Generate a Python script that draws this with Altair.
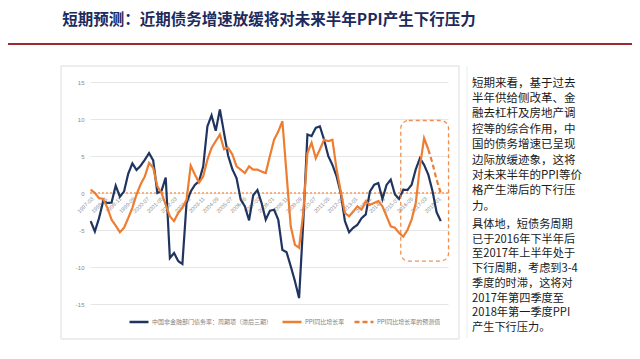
import altair as alt
import pandas as pd

# ---------------- data ----------------
quarters = [f"{y}-{m:02d}" for y in range(1997, 2019) for m in (3, 6, 9, 12)][:85]

debt_cycle = [
    -3.8, -5.2, -3.4, -1.1, -1.35, -1.3, 1.0, -0.5, 0.2, 2.6,
    4.0, 3.1, 3.7, 4.5, 5.4, 4.4, 0.0, 0.3, 2.1, -8.8,
    -8.1, -9.2, -9.6, -1.35, 0.2, 1.1, 1.6, 3.6, 9.0, 10.5,
    8.4, 11.3, 8.1, 5.0, 3.2, 2.0, -0.9, -1.8, -3.7, -0.3,
    0.4, -1.35, -3.6, -2.4, -2.25, -3.6, -7.7, -8.0, -9.9, -11.9,
    -14.2, -4.0, 7.9, 7.7, 8.8, 9.0, 7.2, 5.0, 3.8, 2.25,
    0.0, -3.8, -5.3, -4.7, -4.3, -3.4, -2.9, 0.2, 1.1, 1.35,
    -0.8, 1.1, 1.8, -0.2, -0.8, 0.45, 0.4, 1.1, 3.2, 4.7,
    3.8, 2.5, 0.3, -2.6, -3.8,
]

ppi = [
    0.45, 0.0, -0.7, -0.8, -2.0, -3.6, -4.4, -5.3, -4.7, -3.4,
    -2.0, -0.2, 1.2, 2.25, 4.05, 3.4, 0.9, 0.0, -1.6, -3.15,
    -3.8, -2.7, -2.0, -0.9, 3.7, 2.5, 1.4, 2.25, 4.5, 6.1,
    7.0, 7.9, 5.9, 6.1, 5.2, 3.6, 3.15, 2.7, 3.6, 3.15,
    3.15, 2.9, 2.7, 5.0, 7.2, 8.3, 9.7, 2.5, -4.5, -7.0,
    -7.4, -2.7, 5.4, 6.8, 4.7, 5.9, 7.2, 7.0, 7.2, 3.2,
    0.2, -2.7, -3.15, -2.5, -1.8, -2.25, -1.1, -1.6, -1.35, -1.1,
    -1.8, -3.15, -4.5, -4.7, -5.4, -5.9, -5.0, -3.6, -1.35, 3.6,
    7.4, 5.9,
]

ppi_forecast_quarters = ["2017-06", "2017-09", "2017-12", "2018-03"]
ppi_forecast = [5.9, 4.05, 1.8, 0.0]

tick_labels = [
    "1997-03", "1998-01", "1998-11", "1999-09", "2000-07", "2001-05", "2002-03",
    "2003-01", "2003-11", "2004-09", "2005-07", "2006-05", "2007-03", "2008-01",
    "2008-11", "2009-09", "2010-07", "2011-05", "2012-03", "2013-01", "2013-11",
    "2014-09", "2015-07", "2016-05", "2017-03", "2018-01",
]
y_ticks = [-15, -10, -5, 0, 5, 10, 15]

# highlight box: [start, end] dates and [low, high] values
box_dates = ["2015-10", "2018-09"]
box_values = [-9.2, 9.8]

S1 = "中国非金融部门债务率：周期项（滞后三期）"
S2 = "PPI同比增长率"
S3 = "PPI同比增长率的预测值"

title_text = "短期预测：近期债务增速放缓将对未来半年PPI产生下行压力"
para1 = ["短期来看，基于过去", "半年供给侧改革、金", "融去杠杆及房地产调", "控等的综合作用，中",
         "国的债务增速已呈现", "边际放缓迹象，这将", "对未来半年的PPI等价", "格产生滞后的下行压", "力。"]
para2 = ["具体地，短债务周期", "已于2016年下半年后", "至2017年上半年处于", "下行周期，考虑到3-4",
         "季度的时滞，这将对", "2017年第四季度至", "2018年第一季度PPI", "产生下行压力。"]


def month_index(s):
    y, m = s.split("-")
    return (int(y) - 1997) * 12 + int(m) - 1


rows = []
for q, v in zip(quarters, debt_cycle):
    rows.append({"m": month_index(q), "v": v, "s": S1})
for q, v in zip(quarters, ppi):
    rows.append({"m": month_index(q), "v": v, "s": S2})
for q, v in zip(ppi_forecast_quarters, ppi_forecast):
    rows.append({"m": month_index(q), "v": v, "s": S3})
df = pd.DataFrame(rows)

box_df = pd.DataFrame({
    "m": [month_index(box_dates[0]) + 0.2], "m2": [month_index(box_dates[1]) - 0.4],
    "v": [box_values[0]], "v2": [box_values[1]],
})

NAVY = "#1f3560"
ORANGE = "#ED7D31"
W, H = 358, 222

xscale = alt.Scale(domain=[1.5, 259.2], nice=False, zero=False)
yscale = alt.Scale(domain=[-15, 15], nice=False)

x_axis = alt.Axis(
    values=[month_index(t) for t in tick_labels],
    labelExpr="floor(datum.value/12)+1997 + '-' + (datum.value%12 < 9 ? '0' : '') + (datum.value%12+1)",
    labelAngle=-45, labelFontSize=5.5, labelColor="#8a8a8a", domain=False, ticks=False,
    grid=False, offset=-111, labelPadding=3, labelOverlap=False, labelFlush=False,
    labelFont="Liberation Sans",
)
y_axis = alt.Axis(
    values=y_ticks, labelExpr="'' + datum.value", grid=True, gridColor="#e6e6e6",
    gridWidth=1, domain=False, ticks=False, labelFontSize=6, labelColor="#8a8a8a",
    labelPadding=6, labelFont="Liberation Sans",
)

legend = alt.Legend(
    title=None, orient="none", legendX=38, legendY=229, direction="horizontal",
    symbolType="stroke", symbolSize=361, symbolStrokeWidth=2.5,
    labelFontSize=6.0, labelColor="#7f7f7f", labelLimit=0, columnPadding=4,
    labelOffset=2,
)

lines = alt.Chart(df).mark_line(strokeWidth=2.2).encode(
    x=alt.X("m:Q", scale=xscale, title=None, axis=x_axis),
    y=alt.Y("v:Q", scale=yscale, title=None, axis=y_axis),
    color=alt.Color("s:N", scale=alt.Scale(domain=[S1, S2, S3], range=[NAVY, ORANGE, ORANGE]),
                    legend=legend),
    strokeDash=alt.StrokeDash("s:N", scale=alt.Scale(domain=[S1, S2, S3],
                                                     range=[[1, 0], [1, 0], [5, 3]]),
                              legend=legend),
)

zero_rule = alt.Chart(df).mark_rule(color="#F4B183", strokeDash=[2, 2], strokeWidth=1).encode(
    y=alt.YDatum(0, scale=yscale, axis=y_axis)
)

box = alt.Chart(box_df).mark_rect(
    fill="transparent", stroke=ORANGE, strokeDash=[4, 3], strokeWidth=1.3, cornerRadius=8,
    strokeOpacity=0.85,
).encode(
    x=alt.X("m:Q", scale=xscale, title=None, axis=x_axis), x2="m2:Q",
    y=alt.Y("v:Q", scale=yscale, title=None, axis=y_axis), y2="v2:Q",
)

one = pd.DataFrame({"a": [0]})
frame = alt.Chart(one).mark_rect(fill="transparent", stroke="#dcdcdc", strokeWidth=1).encode(
    x=alt.value(-29), x2=alt.value(369), y=alt.value(-16), y2=alt.value(257)
)
side_line = alt.Chart(one).mark_rule(color="#ececec", strokeWidth=1).encode(
    x=alt.value(377), y=alt.value(-16), y2=alt.value(256)
)
red_line = alt.Chart(one).mark_rule(color="#9e2a2f", strokeWidth=2).encode(
    x=alt.value(-87), x2=alt.value(550), y=alt.value(-38)
)
title = alt.Chart(one).mark_text(
    text=title_text, fontSize=15.5, fontWeight="bold", color="#1c2a5c",
    font="Noto Sans CJK SC", align="center", baseline="middle",
).encode(x=alt.value(179), y=alt.value(-62))
text1 = alt.Chart(one).mark_text(
    text=para1, fontSize=11.5, lineHeight=15.4, color="#1a1a1a", font="Noto Sans CJK SC",
    align="left", baseline="middle",
).encode(x=alt.value(382), y=alt.value(1.5))
text2 = alt.Chart(one).mark_text(
    text=para2, fontSize=11.2, lineHeight=14.7, color="#1a1a1a", font="Noto Sans CJK SC",
    align="left", baseline="middle",
).encode(x=alt.value(382), y=alt.value(143))

chart = alt.layer(
    frame, side_line, red_line, title, text1, text2, zero_rule, lines, box
).properties(
    width=W, height=H, autosize=alt.AutoSizeParams(type="none"),
    padding={"left": 82, "top": 74, "right": 184, "bottom": 47},
).configure(font="Noto Sans CJK SC").configure_view(strokeWidth=0)

chart.save("out.html", embed_options={"renderer": "svg", "actions": False})
